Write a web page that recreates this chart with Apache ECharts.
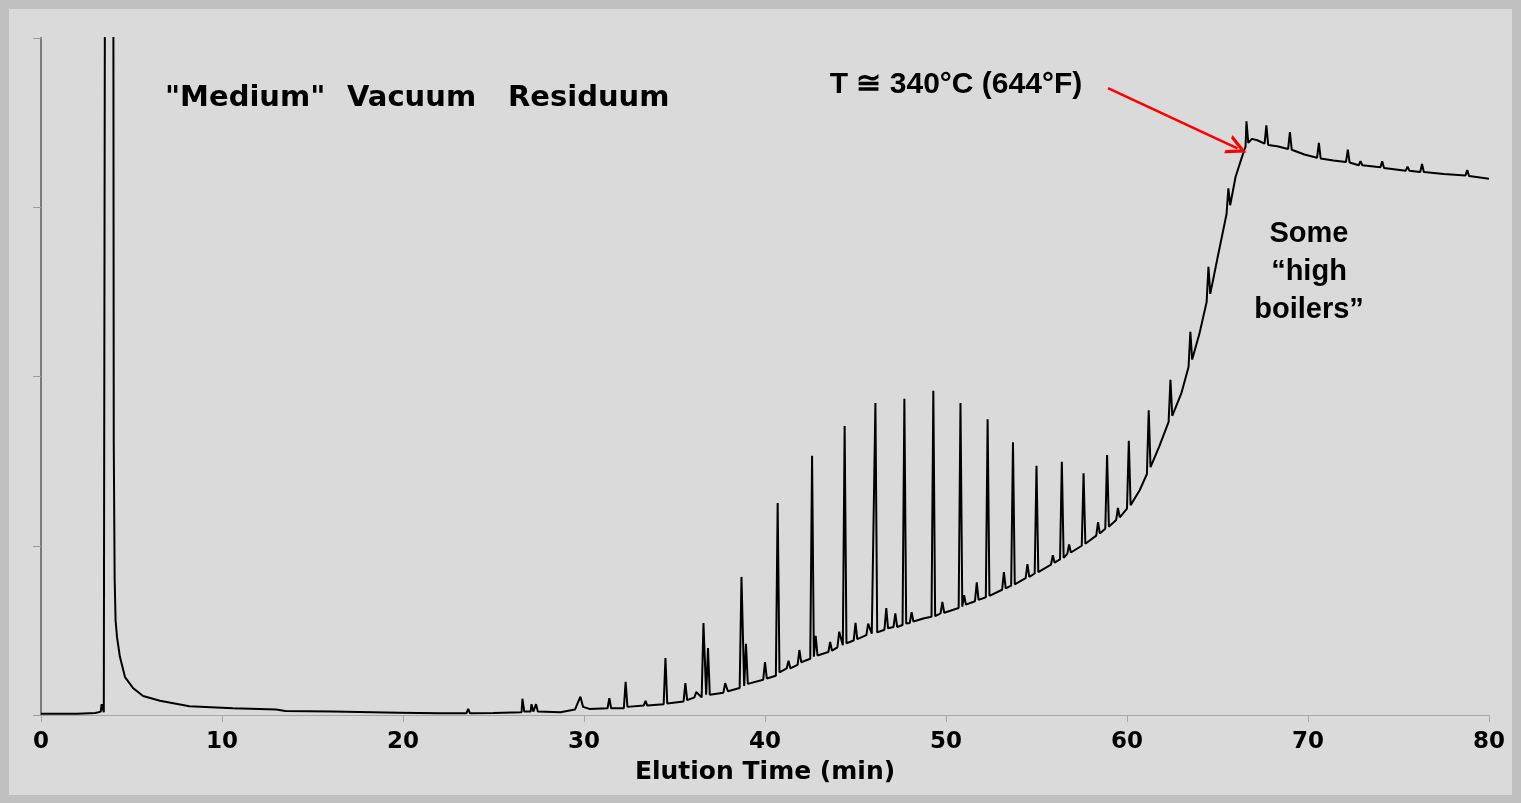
<!DOCTYPE html>
<html>
<head>
<meta charset="utf-8">
<title>Medium Vacuum Residuum</title>
<script src="https://cdn.jsdelivr.net/npm/echarts@6/dist/echarts.min.js"></script>
<style>
  html, body { margin: 0; padding: 0; background: #c0c0c0; }
  .panel {
    position: absolute; left: 9px; top: 9px;
    width: 1503px; height: 786px;
    background: #dadada;
  }
  #chart {
    position: absolute; left: 0; top: 0;
    width: 1521px; height: 803px;
  }
</style>
</head>
<body>
<div class="panel"></div>
<div id="chart"></div>
<script>
// elution time (min)
const elutionTime = [
  0, 2.0, 3.0, 3.3, 3.35, 3.42, 3.47, 3.54, 3.56, 3.98,
  4.02, 4.07, 4.12, 4.2, 4.36, 4.64, 5.08, 5.64, 6.57, 8.2,
  10.6, 13.0, 13.5, 16.1, 19.8, 22, 23.5, 23.6, 23.7, 25,
  26.55, 26.6, 26.7, 27.05, 27.1, 27.2, 27.35, 27.45, 28.7, 29.5,
  29.8, 29.95, 30.3, 31.3, 31.4, 31.5, 32.2, 32.3, 32.4, 33.3,
  33.4, 33.5, 34.4, 34.5, 34.6, 35.5, 35.6, 35.7, 36.1, 36.2,
  36.5, 36.6, 36.75, 36.85, 36.95, 37.7, 37.8, 37.95, 38.6, 38.7,
  38.85, 38.95, 39.05, 39.9, 40.0, 40.1, 40.6, 40.7, 40.8, 41.2,
  41.3, 41.4, 41.8, 41.9, 42.0, 42.5, 42.6, 42.7, 42.8, 42.9,
  43.5, 43.6, 43.7, 44.0, 44.1, 44.3, 44.4, 44.5, 44.9, 45.0,
  45.1, 45.6, 45.7, 45.9, 46.0, 46.1, 46.2, 46.6, 46.7, 46.8,
  47.1, 47.2, 47.3, 47.6, 47.7, 47.8, 48.0, 48.1, 48.2, 48.8,
  49.2, 49.3, 49.4, 49.7, 49.8, 49.9, 50.7, 50.8, 50.9, 51.0,
  51.1, 51.6, 51.7, 51.8, 52.2, 52.3, 52.4, 53.1, 53.2, 53.3,
  53.6, 53.7, 53.8, 54.4, 54.5, 54.6, 54.9, 55.0, 55.1, 55.8,
  55.9, 56.0, 56.3, 56.4, 56.5, 56.7, 56.8, 56.9, 57.5, 57.6,
  57.7, 58.3, 58.4, 58.5, 58.8, 58.9, 59.0, 59.4, 59.5, 59.6,
  60.0, 60.1, 60.2, 60.7, 61.1, 61.2, 61.3, 61.8, 62.3, 62.4,
  62.5, 63.0, 63.4, 63.5, 63.6, 64.0, 64.4, 64.5, 64.6, 65.0,
  65.5, 65.6, 65.7, 66.0, 66.3, 66.55, 66.6, 66.7, 66.9, 67.2,
  67.6, 67.7, 67.8, 68.3, 68.9, 69.0, 69.1, 69.8, 70.5, 70.6,
  70.7, 71.4, 72.1, 72.2, 72.3, 72.8, 72.9, 73.0, 74.0, 74.1,
  74.2, 75.4, 75.5, 75.6, 76.2, 76.3, 76.4, 77.5, 78.7, 78.8,
  78.9, 80
];
// detector signal (relative, axis is 0-100; solvent peak runs off scale)
const signal = [
  0.2, 0.2, 0.3, 0.5, 1.6, 1.6, 0.4, 0.4, 160, 160,
  40, 20, 14, 11.5, 8.6, 5.6, 4.0, 2.8, 2.1, 1.3,
  1.0, 0.8, 0.6, 0.5, 0.35, 0.25, 0.25, 0.9, 0.25, 0.3,
  0.4, 2.4, 0.5, 0.5, 1.6, 0.5, 1.6, 0.5, 0.4, 0.8,
  2.7, 1.2, 0.9, 1.0, 2.5, 1.0, 1.0, 4.9, 1.2, 1.4,
  2.1, 1.4, 1.6, 8.4, 1.7, 2.0, 4.7, 2.2, 2.6, 3.4,
  2.6, 13.6, 3.0, 9.9, 3.0, 3.3, 4.7, 3.5, 4.0, 20.4,
  4.3, 10.5, 4.6, 5.2, 7.8, 5.4, 5.8, 31.3, 6.3, 6.9,
  8.0, 6.9, 7.4, 9.6, 7.8, 8.3, 38.3, 8.6, 11.7, 8.8,
  9.3, 10.8, 9.5, 10.0, 12.3, 10.3, 42.7, 10.6, 11.0, 13.6,
  11.2, 11.8, 13.5, 12.0, 12.0, 46.1, 12.2, 12.6, 15.8, 12.8,
  13.0, 15.0, 13.0, 13.3, 46.7, 13.5, 13.6, 15.2, 13.8, 14.3,
  14.5, 47.9, 14.6, 15.0, 16.7, 15.1, 15.8, 46.1, 16.0, 17.7,
  16.3, 16.8, 19.6, 17.0, 17.4, 43.7, 17.6, 18.5, 21.1, 18.7,
  19.1, 40.3, 19.3, 20.2, 22.3, 20.4, 20.9, 36.8, 21.1, 22.2,
  23.6, 22.5, 23.0, 37.4, 23.2, 23.8, 25.2, 24.0, 25.0, 35.7,
  25.3, 26.5, 28.5, 26.8, 27.5, 38.4, 27.8, 28.8, 30.6, 29.2,
  30.5, 40.5, 31.0, 33.2, 35.6, 45.0, 36.6, 39.8, 43.3, 49.5,
  44.2, 47.5, 51.4, 56.6, 52.5, 56.3, 61.0, 66.2, 62.2, 67.5,
  74.0, 77.8, 75.3, 79.5, 82.0, 84.0, 87.7, 84.5, 85.1, 84.9,
  84.4, 87.1, 84.2, 84.0, 83.6, 86.1, 83.5, 82.8, 82.3, 84.5,
  82.2, 81.9, 81.7, 83.5, 81.6, 81.2, 81.8, 81.2, 80.9, 81.8,
  80.8, 80.4, 81.0, 80.4, 80.2, 81.4, 80.2, 79.9, 79.7, 80.5,
  79.6, 79.2
];
const xTicks = [0, 10, 20, 30, 40, 50, 60, 70, 80];
// arrow from the temperature note to the oven-limit point [time, signal]
const arrowFrom = [58.95, 92.6];
const arrowTo = [66.1, 83.7];

const chart = echarts.init(document.getElementById("chart"));

const boldWide = "DejaVu Sans";
const boldArial = "Liberation Sans";

const option = {
  animation: false,
  grid: {
    left: 41,
    right: 32,
    top: 38,
    bottom: 88,
  },
  xAxis: [
    {
      type: "value",
      min: xTicks[0],
      max: xTicks[xTicks.length - 1],
      interval: 10,
      name: "Elution Time (min)",
      nameLocation: "middle",
      nameGap: 45,
      nameTextStyle: {
        fontFamily: boldWide,
        fontWeight: "bold",
        fontSize: 25,
        color: "#000",
      },
      axisLine: { lineStyle: { color: "#a6a6a6", width: 1 } },
      axisTick: { length: 7, lineStyle: { color: "#a6a6a6" } },
      axisLabel: {
        margin: 16,
        fontFamily: boldWide,
        fontWeight: "bold",
        fontSize: 23,
        color: "#000",
      },
      splitLine: { show: false },
    },
    {
      type: "value",
      position: "top",
      min: 0,
      max: 80,
      axisLine: { show: true, lineStyle: { color: "#a6a6a6", width: 1 } },
      axisTick: { show: false },
      axisLabel: { show: false },
      splitLine: { show: false },
    },
  ],
  yAxis: [
    {
      type: "value",
      min: 0,
      max: 100,
      interval: 25,
      axisLine: { show: true, lineStyle: { color: "#999", width: 1 } },
      axisTick: { show: true, length: 8, lineStyle: { color: "#999" } },
      axisLabel: { show: false },
      splitLine: { show: false },
    },
    {
      type: "value",
      position: "right",
      min: 0,
      max: 100,
      axisLine: { show: true, lineStyle: { color: "#7a7a7a", width: 2 } },
      axisTick: { show: false },
      axisLabel: { show: false },
      splitLine: { show: false },
    },
  ],
  series: [
    {
      type: "line",
      data: elutionTime.map((t, i) => [t, signal[i]]),
      showSymbol: false,
      clip: true,
      lineStyle: { color: "#000", width: 2 },
      markLine: {
        silent: true,
        symbol: ["none", "path://M0,18 L10,0 L20,18 L16.5,18 L10,6.5 L3.5,18 Z"],
        symbolSize: [20, 20],
        lineStyle: { color: "#ff0000", width: 2.5, type: "solid" },
        label: { show: false },
        data: [[{ coord: arrowFrom }, { coord: arrowTo }]],
      },
    },
  ],
  graphic: [
    {
      type: "text",
      x: 165,
      y: 98,
      style: {
        text: '"Medium"',
        font: "bold 29px " + boldWide,
        fill: "#000",
        verticalAlign: "middle",
      },
    },
    {
      type: "text",
      x: 347,
      y: 98,
      style: {
        text: "Vacuum",
        font: "bold 29px " + boldWide,
        fill: "#000",
        verticalAlign: "middle",
      },
    },
    {
      type: "text",
      x: 508,
      y: 98,
      style: {
        text: "Residuum",
        font: "bold 29px " + boldWide,
        fill: "#000",
        verticalAlign: "middle",
      },
    },
    {
      type: "text",
      x: 956,
      y: 85,
      style: {
        text: "T \u2245 340\u00b0C (644\u00b0F)",
        font: "bold 30px " + boldArial,
        fill: "#000",
        align: "center",
        verticalAlign: "middle",
      },
    },
    {
      type: "text",
      x: 1309,
      y: 272,
      style: {
        text: "Some\n\u201chigh\nboilers\u201d",
        font: "bold 29px " + boldArial,
        fill: "#000",
        align: "center",
        verticalAlign: "middle",
        lineHeight: 38,
      },
    },
  ],
};

chart.setOption(option);
</script>
</body>
</html>
